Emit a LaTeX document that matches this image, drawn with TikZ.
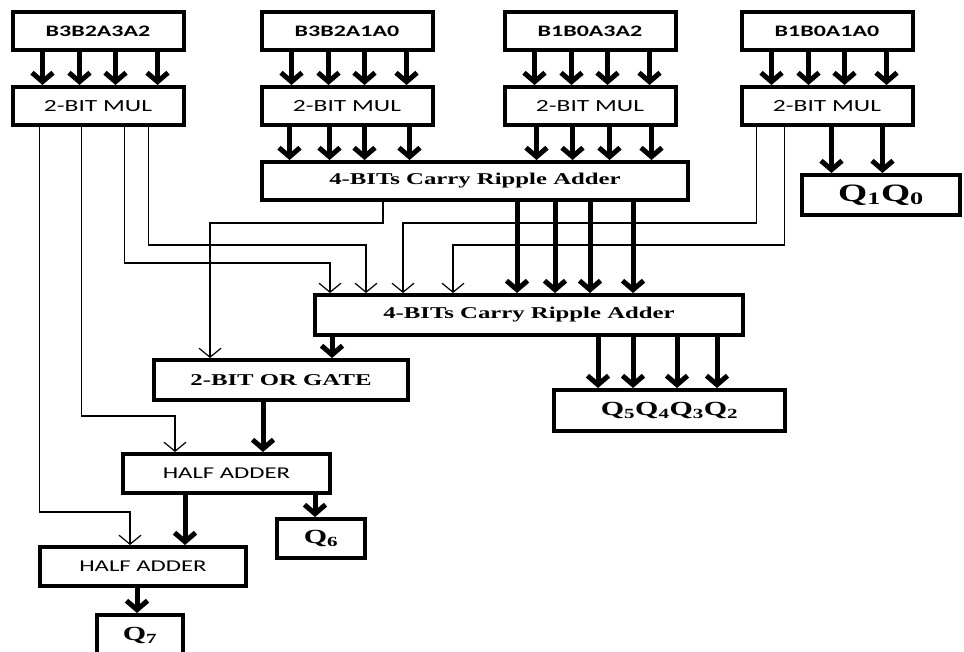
\documentclass[tikz,border=0pt]{standalone}
\usepackage{fontspec}
\usepackage{tikz}
\usetikzlibrary{arrows.meta}
\newfontfamily\calfont[FakeStretch=1.5]{Carlito}
\newfontfamily\timesfont[FakeStretch=1.5]{Liberation Serif}

\begin{document}
\begin{tikzpicture}[x=1pt, y=-1pt,
  box/.style={draw, line width=4pt, inner sep=0pt, minimum height=38pt},
  inbox/.style={box, minimum width=171pt, font=\calfont\bfseries\fontsize{16}{18}\selectfont},
  mulbox/.style={box, minimum width=171pt, font=\calfont\fontsize{17}{19}\selectfont},
  addbox/.style={box, minimum width=426pt, font=\timesfont\bfseries\fontsize{16.5}{19}\selectfont},
  habox/.style={box, minimum width=207pt, minimum height=39pt, font=\calfont\fontsize{16.5}{18}\selectfont},
  qbox/.style={box, minimum height=40pt, font=\timesfont\bfseries\fontsize{20}{22}\selectfont},
  bus/.style={-{Straight Barb[length=9pt,width=21pt]}, line width=5pt},
  wire/.style={-{Straight Barb[length=9pt,width=22pt]}, line width=1.2pt}]
\clip (0,0) rectangle (964,652);
% Bend levels of the thin wires
\coordinate (lvA) at (0,223);
\coordinate (lvB) at (0,245);
\coordinate (lvC) at (0,263);
\coordinate (lvD) at (0,416);
\coordinate (lvE) at (0,512);
% Inputs and multipliers
\foreach \i/\x/\l in {1/98/B3B2A3A2, 2/347/B3B2A1A0, 3/590/B1B0A3A2, 4/827/B1B0A1A0} {
    \node[inbox] (in\i) at (\x,31) {\l};
    \node[mulbox] (mul\i) at (\x,106) {2-BIT MUL};
    \foreach \o in {32,69,105,147}
        \draw[bus] (in\i.south west) ++(\o,0) coordinate (t) -- (t |- mul\i.north);
}
% Adders and gates
\node[addbox] (add1) at (475,181) {4-BITs Carry Ripple Adder};
\node[addbox, minimum width=428pt, minimum height=40pt] (add2) at (529,315) {4-BITs Carry Ripple Adder};
\node[addbox, minimum width=254pt, minimum height=40pt] (or) at (281,380) {2-BIT OR GATE};
\node[habox] (ha1) at (226.5,473.5) {HALF ADDER};
\node[habox, minimum width=206pt] (ha2) at (143,566.5) {HALF ADDER};
% Outputs
\node[qbox, minimum width=158pt, font=\timesfont\bfseries\fontsize{25}{27}\selectfont] (q10) at (881,195) {Q\textsubscript{1}Q\textsubscript{0}};
\node[qbox, minimum width=231pt, minimum height=41pt] (q52) at (669.5,410.5) {Q\textsubscript{5}Q\textsubscript{4}Q\textsubscript{3}Q\textsubscript{2}};
\node[qbox, minimum width=88pt, minimum height=39pt] (q6) at (321,538.5) {Q\textsubscript{6}};
\node[qbox, minimum width=86pt] (q7) at (140,635) {Q\textsubscript{7}};
% Thick buses
\foreach \o in {30,70,105,150}
    \draw[bus] (mul2.south west) ++(\o,0) coordinate (t) -- (t |- add1.north);
\foreach \o in {34,70,107,149}
    \draw[bus] (mul3.south west) ++(\o,0) coordinate (t) -- (t |- add1.north);
\foreach \o in {92,143}
    \draw[bus] (mul4.south west) ++(\o,0) coordinate (t) -- (t |- q10.north);
\foreach \o in {257,295,330,373}
    \draw[bus] (add1.south west) ++(\o,0) coordinate (t) -- (t |- add2.north);
\foreach \o in {285,320,364,404}
    \draw[bus] (add2.south west) ++(\o,0) coordinate (t) -- (t |- q52.north);
\draw[bus] (add2.south west) ++(19,0) coordinate (t) -- (t |- or.north);
\draw[bus] (or.south west) ++(111,0) coordinate (t) -- (t |- ha1.north);
\draw[bus] (ha1.south west) ++(64,0) coordinate (t) -- (t |- ha2.north);
\draw[bus] (ha1.south west) ++(194,0) coordinate (t) -- (t |- q6.north);
\draw[bus] (ha2.south west) ++(99,0) coordinate (t) -- (t |- q7.north);
% Thin wires
\draw[wire] (mul1.south west) ++(138,0) coordinate (t) -- (t |- lvB) -| ([xshift=53pt]add2.north west);
\draw[wire] (mul1.south west) ++(114,0) coordinate (t) -- (t |- lvC) -| ([xshift=17pt]add2.north west);
\draw[wire] (mul1.south west) ++(71,0) coordinate (t) -- (t |- lvD) -| ([xshift=54pt]ha1.north west);
\draw[wire] (mul1.south west) ++(29,0) coordinate (t) -- (t |- lvE) -| ([xshift=92pt]ha2.north west);
\draw[wire] (add1.south west) ++(123,0) coordinate (t) -- (t |- lvA) -| ([xshift=58pt]or.north west);
\draw[wire] (mul4.south west) ++(17,0) coordinate (t) -- (t |- lvA) -| ([xshift=90pt]add2.north west);
\draw[wire] (mul4.south west) ++(45,0) coordinate (t) -- (t |- lvB) -| ([xshift=140pt]add2.north west);
\end{tikzpicture}
\end{document}
